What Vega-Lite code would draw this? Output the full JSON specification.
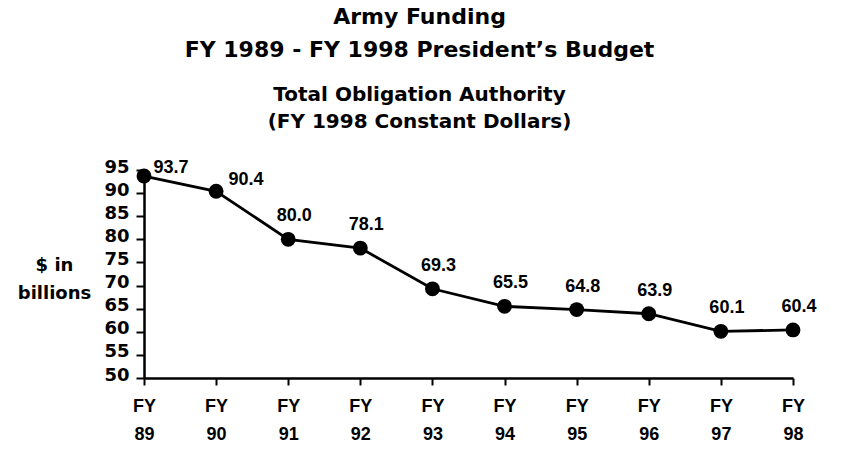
{
  "$schema": "https://vega.github.io/schema/vega-lite/v6.json",
  "autosize": {"type": "none"},
  "width": 649,
  "height": 208,
  "padding": {"left": 144, "top": 170, "right": 59, "bottom": 84},
  "background": "white",
  "config": {
    "font": "Liberation Sans",
    "view": {"stroke": null},
    "axis": {"domainColor": "black", "tickColor": "black", "labelColor": "black", "titleColor": "black", "grid": false, "labelFontWeight": "bold", "domainWidth": 2.5, "tickWidth": 2}
  },
  "title": {
    "text": ["Army Funding", "FY 1989 - FY 1998 President’s Budget"],
    "subtitle": ["Total Obligation Authority", "(FY 1998 Constant Dollars)"],
    "anchor": "middle",
    "dx": -49,
    "font": "DejaVu Sans",
    "fontSize": 22,
    "fontWeight": "bold",
    "lineHeight": 33,
    "color": "black",
    "subtitleFont": "DejaVu Sans",
    "subtitleFontSize": 20,
    "subtitleFontWeight": "bold",
    "subtitleLineHeight": 27,
    "subtitleColor": "black",
    "subtitlePadding": 23,
    "offset": 25
  },
  "data": {
    "values": [
      {"fy": "89", "value": 93.7},
      {"fy": "90", "value": 90.4},
      {"fy": "91", "value": 80.0},
      {"fy": "92", "value": 78.1},
      {"fy": "93", "value": 69.3},
      {"fy": "94", "value": 65.5},
      {"fy": "95", "value": 64.8},
      {"fy": "96", "value": 63.9},
      {"fy": "97", "value": 60.1},
      {"fy": "98", "value": 60.4}
    ]
  },
  "encoding": {
    "x": {
      "field": "fy", "type": "ordinal",
      "scale": {"type": "point", "padding": 0},
      "axis": {"title": null, "labelAngle": 0, "labelExpr": "['FY', datum.label]", "labelFont": "Liberation Sans", "labelFontSize": 18, "labelLineHeight": 28, "tickSize": 7, "labelPadding": 12, "labelBaseline": "top"}
    },
    "y": {
      "field": "value", "type": "quantitative",
      "scale": {"domain": [50, 95], "nice": false, "zero": false},
      "axis": {"values": [50,55,60,65,70,75,80,85,90,95], "tickSize": 8, "labelPadding": 7, "labelOffset": -3,
        "labelFont": "DejaVu Sans", "labelFontSize": 18,
        "title": ["$ in", "billions"], "titleAngle": 0, "titleFontSize": 18, "titleFontWeight": "bold", "titleFont": "DejaVu Sans",
        "titleX": -90, "titleY": 86, "titleAlign": "center", "titleBaseline": "top", "titleLineHeight": 28}
    }
  },
  "layer": [
    {"mark": {"type": "line", "color": "black", "strokeWidth": 2.8}},
    {"mark": {"type": "point", "filled": true, "color": "black", "opacity": 1, "size": 220}},
    {
      "transform": [{"filter": "datum.fy == '89'"}],
      "mark": {"type": "text", "fontSize": 18, "fontWeight": "bold", "color": "black", "dx": 27, "dy": -8, "baseline": "middle"},
      "encoding": {"text": {"field": "value", "type": "quantitative", "format": ".1f"}}
    },
    {
      "transform": [{"filter": "datum.fy == '90'"}],
      "mark": {"type": "text", "fontSize": 18, "fontWeight": "bold", "color": "black", "dx": 30, "dy": -11, "baseline": "middle"},
      "encoding": {"text": {"field": "value", "type": "quantitative", "format": ".1f"}}
    },
    {
      "transform": [{"filter": "datum.fy != '89' && datum.fy != '90'"}],
      "mark": {"type": "text", "fontSize": 18, "fontWeight": "bold", "color": "black", "dx": 6, "dy": -23, "baseline": "middle"},
      "encoding": {"text": {"field": "value", "type": "quantitative", "format": ".1f"}}
    }
  ]
}
